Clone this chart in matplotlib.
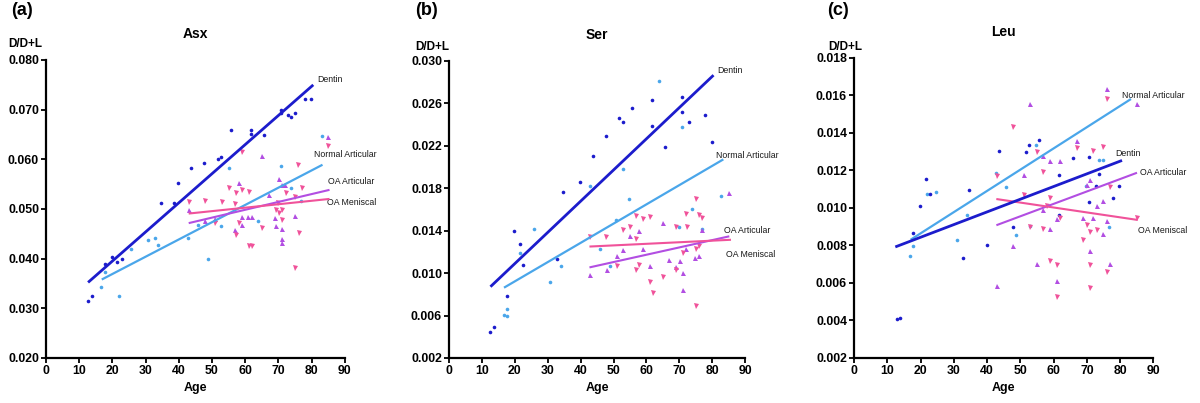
import numpy as np
import matplotlib
matplotlib.use("Agg")
import matplotlib.pyplot as plt

plt.rcParams['font.family'] = ['Liberation Sans', 'DejaVu Sans']

# colours of the four tissue groups
c_dentin = "#1c1ccc"
c_normal = "#4aa6ea"
c_oa_art = "#b24ee2"
c_oa_men = "#f0529a"

ages = list(range(0, 91, 10))

# ---------------- Asx ----------------
asx_dentin_age = [12.8, 13.8, 17.9, 19.8, 21.5, 22.9, 34.8, 38.7, 39.9, 43.7, 47.7, 51.8, 52.8,
                  55.8, 61.8, 61.8, 65.8, 70.7, 70.7, 72.9, 73.9, 74.9, 77.9, 79.9]
asx_dentin_val = [0.0314, 0.0325, 0.0389, 0.0403, 0.0394, 0.0399, 0.0513, 0.0513, 0.0552, 0.0583,
                  0.0593, 0.0601, 0.0605, 0.0660, 0.0660, 0.0651, 0.0649, 0.0699, 0.0694, 0.0689,
                  0.0685, 0.0693, 0.0721, 0.0721]
asx_normal_age = [16.6, 17.9, 21.9, 25.7, 30.8, 32.8, 33.8, 42.7, 45.9, 48.7, 52.8, 55.0, 63.8,
                  70.7, 73.9, 76.9, 83.0]
asx_normal_val = [0.0343, 0.0373, 0.0324, 0.0419, 0.0438, 0.0441, 0.0428, 0.0441, 0.0468, 0.0399,
                  0.0466, 0.0583, 0.0475, 0.0587, 0.0543, 0.0517, 0.0646]
asx_oaart_age = [43.1, 48.0, 51.0, 57.0, 58.1, 59.1, 59.1, 61.0, 62.0, 65.0, 67.2, 69.0, 69.2,
                 70.2, 71.0, 71.0, 71.0, 71.1, 72.1, 75.1, 85.0]
asx_oaart_val = [0.0498, 0.0476, 0.0480, 0.0457, 0.0553, 0.0484, 0.0468, 0.0483, 0.0483, 0.0607,
                 0.0528, 0.0481, 0.0465, 0.0560, 0.0459, 0.0440, 0.0432, 0.0548, 0.0548, 0.0485,
                 0.0644]
asx_oamen_age = [43.1, 48.0, 51.0, 53.1, 55.1, 57.0, 57.1, 57.1, 58.1, 59.1, 59.1, 61.1, 61.1,
                 62.1, 65.1, 69.2, 70.0, 70.2, 71.1, 71.1, 72.2, 75.1, 75.1, 75.9, 76.1, 77.1, 85.1]
asx_oamen_val = [0.0514, 0.0517, 0.0471, 0.0515, 0.0543, 0.0510, 0.0533, 0.0448, 0.0471, 0.0615,
                 0.0539, 0.0535, 0.0425, 0.0425, 0.0461, 0.0497, 0.0513, 0.0491, 0.0497, 0.0478,
                 0.0533, 0.0525, 0.0382, 0.0589, 0.0452, 0.0542, 0.0627]
asx_fit_dentin = ([13.0, 80.2], [0.0354, 0.0748])
asx_fit_normal = ([17.1, 83.0], [0.0359, 0.0588])
asx_fit_oaart = ([43.3, 85.1], [0.0472, 0.0538])
asx_fit_oamen = ([43.3, 85.1], [0.0491, 0.0520])
asx_yticks = [0.020, 0.030, 0.040, 0.050, 0.060, 0.070, 0.080]

# ---------------- Ser ----------------
ser_dentin_age = [12.6, 13.6, 17.7, 19.9, 21.7, 22.6, 32.7, 34.6, 39.9, 43.7, 47.8, 51.6, 52.8,
                  55.6, 61.8, 61.8, 65.7, 70.8, 70.8, 72.8, 77.9, 79.9]
ser_dentin_val = [0.00442, 0.00492, 0.0078, 0.01398, 0.0127, 0.01075, 0.01132, 0.01769, 0.01863,
                  0.0210, 0.02295, 0.02462, 0.02421, 0.02553, 0.02631, 0.02386, 0.02192, 0.02657,
                  0.02521, 0.02424, 0.0249, 0.02239]
ser_normal_age = [16.7, 17.5, 17.7, 21.7, 25.8, 30.8, 33.9, 42.8, 45.8, 48.8, 50.9, 52.9, 54.8,
                  63.7, 69.8, 70.8, 73.8, 76.8, 82.7]
ser_normal_val = [0.00602, 0.00592, 0.00661, 0.01188, 0.01417, 0.00915, 0.01063, 0.01822, 0.01229,
                  0.01063, 0.01502, 0.01982, 0.01696, 0.02813, 0.01439, 0.02374, 0.01602, 0.01417,
                  0.01731]
ser_oaart_age = [43.0, 48.0, 51.1, 52.9, 54.9, 57.9, 58.9, 61.0, 65.0, 67.0, 69.1, 70.1, 71.1,
                 71.1, 72.1, 74.8, 76.1, 77.0, 85.1]
ser_oaart_val = [0.00984, 0.01025, 0.01157, 0.0122, 0.01351, 0.01401, 0.01226, 0.01063, 0.01477,
                 0.01125, 0.01056, 0.01119, 0.0100, 0.00843, 0.01226, 0.01141, 0.01166, 0.01408,
                 0.01753]
ser_oamen_age = [43.0, 47.8, 51.1, 52.9, 54.9, 56.9, 56.9, 56.9, 57.9, 58.9, 61.0, 61.0, 62.0,
                 65.0, 69.1, 69.1, 71.1, 72.1, 72.2, 75.1, 75.1, 75.1, 76.1, 76.1, 77.0]
ser_oamen_val = [0.01339, 0.01339, 0.01069, 0.01402, 0.01439, 0.0154, 0.0132, 0.01031, 0.01078,
                 0.01508, 0.01533, 0.00912, 0.00812, 0.00962, 0.01433, 0.01025, 0.01188, 0.01558,
                 0.01433, 0.01696, 0.00686, 0.01226, 0.01549, 0.01251, 0.01518]
ser_fit_dentin = ([12.9, 80.1], [0.00881, 0.02857])
ser_fit_normal = ([17.0, 83.1], [0.00868, 0.02067])
ser_fit_oaart = ([43.0, 84.9], [0.01056, 0.01345])
ser_fit_oamen = ([43.0, 85.4], [0.01251, 0.01314])
ser_yticks = [0.002, 0.006, 0.010, 0.014, 0.018, 0.022, 0.026, 0.030]

# ---------------- Leu ----------------
leu_dentin_age = [12.8, 13.8, 17.8, 19.8, 21.6, 22.9, 32.7, 34.7, 39.9, 43.7, 47.7, 51.7, 52.7,
                  55.7, 61.7, 61.7, 65.8, 70.7, 70.7, 72.8, 73.8, 77.8, 79.8]
leu_dentin_val = [0.00408, 0.00413, 0.00866, 0.01013, 0.01156, 0.01077, 0.00733, 0.01095, 0.00804,
                  0.01302, 0.00899, 0.01297, 0.01338, 0.0136, 0.01178, 0.00964, 0.01267, 0.01272,
                  0.0103, 0.01115, 0.01181, 0.01053, 0.01115]
leu_normal_age = [16.8, 17.8, 21.8, 24.7, 30.9, 33.9, 42.7, 45.7, 48.7, 52.9, 54.7, 69.8, 73.8,
                  74.8, 76.8]
leu_normal_val = [0.00745, 0.00795, 0.01077, 0.01083, 0.0083, 0.0096, 0.01186, 0.01112, 0.00858,
                  0.00902, 0.01338, 0.01119, 0.01254, 0.01254, 0.00899]
leu_oaart_age = [43.1, 47.9, 51.1, 52.9, 54.9, 56.9, 56.9, 58.9, 58.9, 60.9, 60.9, 61.9, 66.9,
                 68.9, 70.0, 71.0, 71.0, 71.9, 73.0, 75.0, 75.0, 76.0, 76.0, 77.0, 85.0]
leu_oaart_val = [0.00582, 0.00799, 0.01178, 0.01556, 0.00701, 0.01275, 0.00991, 0.01249, 0.0089,
                 0.00941, 0.00609, 0.01249, 0.01359, 0.00947, 0.01124, 0.01151, 0.00769, 0.00947,
                 0.01009, 0.01039, 0.00861, 0.01635, 0.00929, 0.00701, 0.01556]
leu_oamen_age = [43.0, 47.9, 51.1, 52.9, 54.9, 56.9, 56.9, 57.9, 58.9, 58.9, 60.9, 60.9, 61.9,
                 66.9, 68.9, 70.0, 71.0, 71.0, 71.0, 71.9, 73.0, 75.0, 76.0, 76.0, 77.0, 85.0]
leu_oamen_val = [0.01168, 0.0143, 0.01071, 0.00897, 0.01297, 0.0119, 0.0089, 0.01012, 0.01053,
                 0.00715, 0.00698, 0.00525, 0.00947, 0.0132, 0.00831, 0.00911, 0.0087, 0.00698,
                 0.00573, 0.01302, 0.0088, 0.01323, 0.01581, 0.00657, 0.0111, 0.00947]
leu_fit_dentin = ([12.8, 80.2], [0.00795, 0.01251])
leu_fit_normal = ([17.3, 83.0], [0.00834, 0.01578])
leu_fit_oaart = ([43.1, 84.8], [0.0091, 0.01186])
leu_fit_oamen = ([43.1, 85.0], [0.01047, 0.00937])
leu_yticks = [0.002, 0.004, 0.006, 0.008, 0.010, 0.012, 0.014, 0.016, 0.018]

fig = plt.figure(figsize=(12, 4.03), dpi=100)


def panel(rect, title, letter, letter_x, yticks, pts, fits, labels, dl_x, dl_y):
    ax = fig.add_axes(rect)
    (da, dv), (na, nv), (aa, av), (ma, mv) = pts
    ax.plot(na, nv, 'o', color=c_normal, ms=2.6, mew=0, zorder=3)
    ax.plot(da, dv, 'o', color=c_dentin, ms=2.6, mew=0, zorder=3)
    ax.plot(aa, av, '^', color=c_oa_art, ms=3.6, mew=0, zorder=3)
    ax.plot(ma, mv, 'v', color=c_oa_men, ms=3.6, mew=0, zorder=3)
    fd, fn, fa, fm = fits
    ax.plot(*fn, color=c_normal, lw=1.6, zorder=4)
    ax.plot(*fa, color=c_oa_art, lw=1.5, zorder=4)
    ax.plot(*fm, color=c_oa_men, lw=1.5, zorder=4)
    ax.plot(*fd, color=c_dentin, lw=2.0, zorder=4)
    for txt, (x, y) in labels.items():
        ax.text(x, y, txt, fontsize=6.3, color="#1a1a1a", va='center', ha='left')
    ax.set_xlim(0, 90)
    ax.set_ylim(yticks[0], yticks[-1])
    ax.set_xticks(ages)
    ax.set_yticks(yticks)
    ax.set_yticklabels(["%.3f" % v for v in yticks], fontweight='bold', fontsize=8.8)
    ax.set_xticklabels([str(a) for a in ages], fontweight='bold', fontsize=8.8)
    for s in ['top', 'right']:
        ax.spines[s].set_visible(False)
    for s in ['left', 'bottom']:
        ax.spines[s].set_linewidth(1.6)
    ax.tick_params(direction='out', length=3.5, width=1.3, pad=1.5)
    ax.set_xlabel("Age", fontweight='bold', fontsize=9, labelpad=4)
    ax.set_title(title, fontweight='bold', fontsize=10, pad=16)
    ax.text(dl_x, dl_y, "D/D+L", transform=ax.transAxes, fontweight='bold',
            fontsize=8.5, ha='left', va='center')
    fig.text(letter_x, 0.975, letter, fontweight='bold', fontsize=13, ha='left', va='center')
    return ax


panel([0.0383, 0.1117, 0.249, 0.7395], "Asx", "(a)", 0.009, asx_yticks,
      [(asx_dentin_age, asx_dentin_val), (asx_normal_age, asx_normal_val),
       (asx_oaart_age, asx_oaart_val), (asx_oamen_age, asx_oamen_val)],
      [asx_fit_dentin, asx_fit_normal, asx_fit_oaart, asx_fit_oamen],
      {"Dentin": (81.6, 0.0761), "Normal Articular": (80.6, 0.0609),
       "OA Articular": (85.0, 0.0556), "OA Meniscal": (84.6, 0.0514)},
      -0.125, 1.055)

panel([0.3742, 0.1117, 0.2467, 0.7370], "Ser", "(b)", 0.346, ser_yticks,
      [(ser_dentin_age, ser_dentin_val), (ser_normal_age, ser_normal_val),
       (ser_oaart_age, ser_oaart_val), (ser_oamen_age, ser_oamen_val)],
      [ser_fit_dentin, ser_fit_normal, ser_fit_oaart, ser_fit_oamen],
      {"Dentin": (81.4, 0.0291), "Normal Articular": (81.1, 0.0211),
       "OA Articular": (83.6, 0.0140), "OA Meniscal": (84.2, 0.0118)},
      -0.115, 1.047)

panel([0.7117, 0.1117, 0.2494, 0.7444], "Leu", "(c)", 0.689, leu_yticks,
      [(leu_dentin_age, leu_dentin_val), (leu_normal_age, leu_normal_val),
       (leu_oaart_age, leu_oaart_val), (leu_oamen_age, leu_oamen_val)],
      [leu_fit_dentin, leu_fit_normal, leu_fit_oaart, leu_fit_oamen],
      {"Normal Articular": (80.7, 0.0160), "Dentin": (78.7, 0.0129),
       "OA Articular": (86.0, 0.0119), "OA Meniscal": (85.5, 0.0088)},
      -0.087, 1.035)

fig.savefig("out.png", dpi=100)
